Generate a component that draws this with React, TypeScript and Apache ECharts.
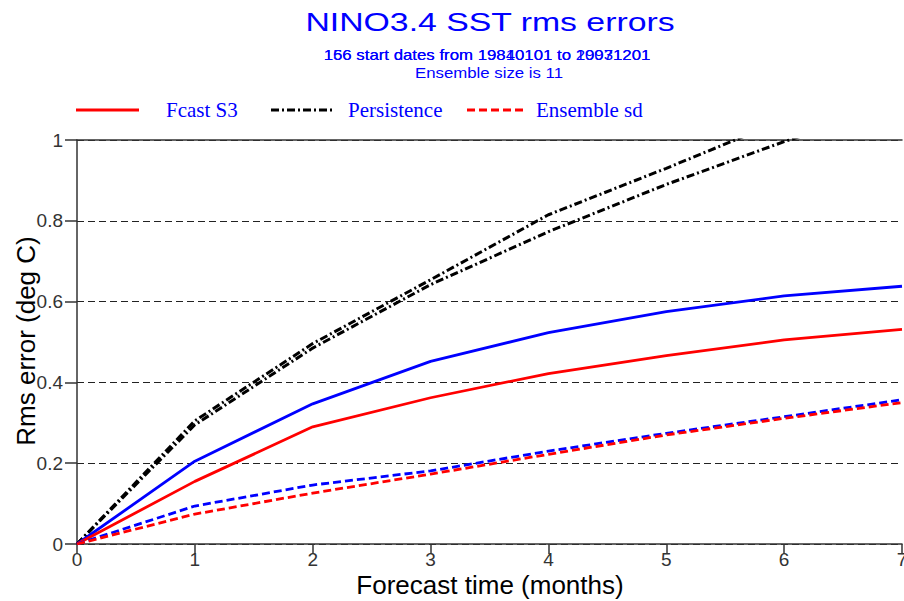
import React, { useEffect, useRef } from "react";
import * as echarts from "echarts";

const leadMonths = [0, 1, 2, 3, 4, 5, 6, 7];
const fcastS3 = [0, 0.155, 0.29, 0.362, 0.422, 0.466, 0.505, 0.531];
const fcastOther = [0, 0.205, 0.347, 0.452, 0.523, 0.575, 0.614, 0.638];
const persistenceA = [0, 0.305, 0.496, 0.654, 0.815, 0.93, 1.05, 1.16];
const persistenceB = [0, 0.295, 0.485, 0.642, 0.773, 0.89, 0.996, 1.09];
const ensSdS3 = [0, 0.074, 0.126, 0.173, 0.222, 0.27, 0.311, 0.35];
const ensSdOther = [0, 0.094, 0.146, 0.181, 0.23, 0.274, 0.315, 0.357];

const titleText = "NINO3.4 SST rms errors";
const subtitleA = "156 start dates from 19810101 to 19931201";
const subtitleB = "166 start dates from 19840101 to 20071201";
const subtitleC = "Ensemble size is 11";
const legendLabels = ["Fcast S3", "Persistence", "Ensemble sd"];
const xAxisTitle = "Forecast time (months)";
const yAxisTitle = "Rms error (deg C)";

const pts = (ys: number[]) => ys.map((y, i) => [leadMonths[i], y]);

export default function App() {
  const ref = useRef<HTMLDivElement>(null);
  useEffect(() => {
    const chart = echarts.init(ref.current!, undefined, { renderer: "svg" });
    const sans = "Liberation Sans, Arial, sans-serif";
    const serif = "Liberation Serif, Times New Roman, serif";
    const blue = "#0000ff";
    const red = "#ff0000";
    const dashDot = [8, 3, 2, 3];
    const mk = (name: string, data: number[], color: string, type: any, width = 2.8) => ({
      name,
      type: "line",
      data: pts(data),
      symbol: "none",
      clip: true,
      lineStyle: { color, width, type },
      z: 3,
    });
    chart.setOption({
      animation: false,
      grid: { left: 77, top: 140, right: 2, bottom: 57, outerBoundsMode: "none", containLabel: false },
      xAxis: [
        {
          type: "value",
          min: 0,
          max: 7,
          interval: 1,
          axisLine: { lineStyle: { color: "#333", width: 1.5 } },
          axisTick: { show: true, length: 10, lineStyle: { color: "#333", width: 1.5 } },
          axisLabel: { color: "#333", fontSize: 19, fontFamily: sans, margin: 6 },
          splitLine: { show: false },
        },
        {
          type: "value",
          position: "top",
          min: 0,
          max: 7,
          interval: 1,
          axisLine: { show: true, lineStyle: { color: "#333", width: 1.5 } },
          axisTick: { show: false },
          axisLabel: { show: false },
          splitLine: { show: false },
        },
      ],
      yAxis: {
        type: "value",
        min: 0,
        max: 1,
        interval: 0.2,
        axisLine: { show: true, lineStyle: { color: "#333", width: 1.5 } },
        axisTick: { show: true, length: 12, lineStyle: { color: "#333", width: 1.5 } },
        axisLabel: { color: "#333", fontSize: 19, fontFamily: sans, margin: 14 },
        splitLine: { show: true, lineStyle: { color: "#222", width: 1, type: [7, 4] } },
      },
      series: [
        mk("Persistence A", persistenceA, "#000", dashDot, 3),
        mk("Persistence B", persistenceB, "#000", dashDot, 3),
        mk("Fcast other", fcastOther, blue, "solid"),
        mk("Fcast S3", fcastS3, red, "solid"),
        mk("Ensemble sd other", ensSdOther, blue, [8, 4]),
        mk("Ensemble sd", ensSdS3, red, [8, 4]),
      ],
      graphic: [
        { type: "text", x: 490, y: 22, scaleX: 1.3, style: { text: titleText, font: `26px ${sans}`, fill: blue, align: "center", verticalAlign: "middle" } },
        { type: "text", x: 487, y: 55, scaleX: 1.2, style: { text: subtitleA, font: `14px ${sans}`, fill: blue, align: "center", verticalAlign: "middle" } },
        { type: "text", x: 487, y: 55, scaleX: 1.2, style: { text: subtitleB, font: `14px ${sans}`, fill: blue, align: "center", verticalAlign: "middle" } },
        { type: "text", x: 489, y: 73, scaleX: 1.2, style: { text: subtitleC, font: `14px ${sans}`, fill: blue, align: "center", verticalAlign: "middle" } },
        { type: "line", shape: { x1: 76, y1: 110, x2: 139, y2: 110 }, style: { stroke: red, lineWidth: 2.8 } },
        { type: "text", x: 166, y: 110, style: { text: legendLabels[0], font: `21px ${serif}`, fill: blue, align: "left", verticalAlign: "middle" } },
        { type: "line", shape: { x1: 271, y1: 110, x2: 333, y2: 110 }, style: { stroke: "#000", lineWidth: 2.8, lineDash: dashDot } },
        { type: "text", x: 348, y: 110, style: { text: legendLabels[1], font: `21px ${serif}`, fill: blue, align: "left", verticalAlign: "middle" } },
        { type: "line", shape: { x1: 467, y1: 110, x2: 527, y2: 110 }, style: { stroke: red, lineWidth: 2.8, lineDash: [8, 4] } },
        { type: "text", x: 536, y: 110, style: { text: legendLabels[2], font: `21px ${serif}`, fill: blue, align: "left", verticalAlign: "middle" } },
        { type: "text", x: 490, y: 585, style: { text: xAxisTitle, font: `26px ${sans}`, fill: "#000", align: "center", verticalAlign: "middle" } },
        { type: "text", x: 26, y: 341, rotation: Math.PI / 2, style: { text: yAxisTitle, font: `26px ${sans}`, fill: "#000", align: "center", verticalAlign: "middle" } },
      ],
    });
    return () => chart.dispose();
  }, []);
  return <div ref={ref} style={{ position: "fixed", left: 0, top: 0, width: 904, height: 601, background: "#fff" }} />;
}
